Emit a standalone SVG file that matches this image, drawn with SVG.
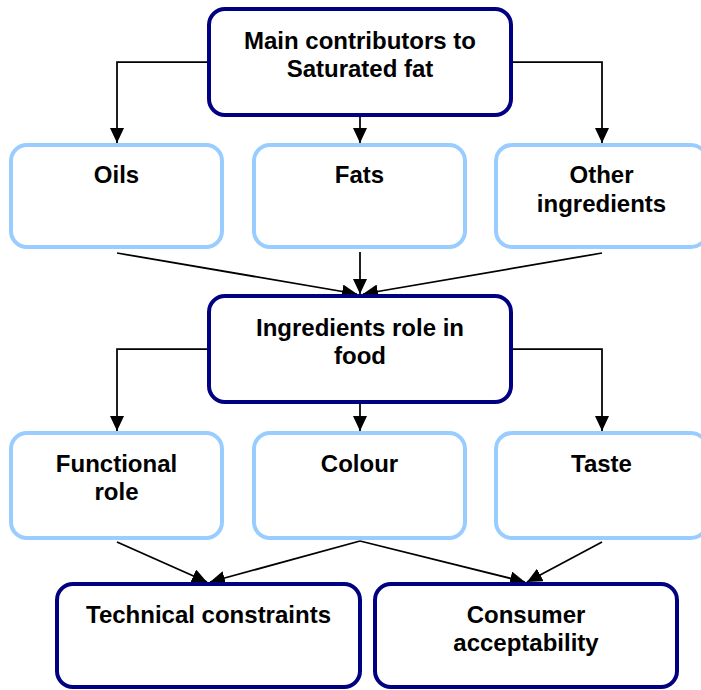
<svg xmlns="http://www.w3.org/2000/svg" width="701" height="690" viewBox="0 0 701 690">
<defs>
<marker id="ah" markerUnits="userSpaceOnUse" markerWidth="15" markerHeight="14" refX="15" refY="7" orient="auto" viewBox="0 0 15 14">
<path d="M0,0 L15,7 L0,14 z" fill="#000"/>
</marker>
</defs>
<style>
.main{fill:#fff;stroke:#000080;stroke-width:4}
.sub{fill:#fff;stroke:#99CCFF;stroke-width:4}
.t{font-family:"Liberation Sans",Arial,sans-serif;font-weight:bold;font-size:24px;fill:#000;text-anchor:middle}
.c{fill:none;stroke:#000;stroke-width:1.75;marker-end:url(#ah)}
</style>
<rect width="701" height="690" fill="#fff"/>
<g id="connectors">
<path class="c" d="M207,62 H117 V143"/>
<path class="c" d="M360,117 V143"/>
<path class="c" d="M513,62 H602 V143"/>
<path class="c" d="M117,253 L357,294"/>
<path class="c" d="M360,252 V294"/>
<path class="c" d="M602,253 L363,294"/>
<path class="c" d="M207,349 H117 V431"/>
<path class="c" d="M360,404 V431"/>
<path class="c" d="M513,349 H602 V431"/>
<path class="c" d="M117,542 L207,582"/>
<path class="c" d="M360,541 L210,582"/>
<path class="c" d="M360,541 L525,582"/>
<path class="c" d="M602,542 L527,582"/>
</g>
<g id="main-contributors">
<rect class="main" x="209" y="9" width="302" height="106" rx="16"/>
<text class="t" x="360" y="49">Main contributors to</text>
<text class="t" x="360" y="77">Saturated fat</text>
</g>
<g id="oils">
<rect class="sub" x="11" y="145" width="211" height="102" rx="16"/>
<text class="t" x="116.5" y="183">Oils</text>
</g>
<g id="fats">
<rect class="sub" x="254" y="145" width="211" height="102" rx="16"/>
<text class="t" x="359.5" y="183">Fats</text>
</g>
<g id="other-ingredients">
<rect class="sub" x="496" y="145" width="211" height="102" rx="16"/>
<text class="t" x="601.5" y="183">Other</text>
<text class="t" x="601.5" y="212">ingredients</text>
</g>
<g id="ingredients-role">
<rect class="main" x="209" y="296" width="302" height="106" rx="16"/>
<text class="t" x="360" y="336">Ingredients role in</text>
<text class="t" x="360" y="364">food</text>
</g>
<g id="functional-role">
<rect class="sub" x="11" y="433" width="211" height="105" rx="16"/>
<text class="t" x="116.5" y="472">Functional</text>
<text class="t" x="116.5" y="500">role</text>
</g>
<g id="colour">
<rect class="sub" x="254" y="433" width="211" height="105" rx="16"/>
<text class="t" x="359.5" y="472">Colour</text>
</g>
<g id="taste">
<rect class="sub" x="496" y="433" width="211" height="105" rx="16"/>
<text class="t" x="601.5" y="472">Taste</text>
</g>
<g id="technical-constraints">
<rect class="main" x="57" y="584" width="303" height="103" rx="16"/>
<text class="t" x="208.5" y="623">Technical constraints</text>
</g>
<g id="consumer-acceptability">
<rect class="main" x="375" y="584" width="302" height="103" rx="16"/>
<text class="t" x="526" y="623">Consumer</text>
<text class="t" x="526" y="651">acceptability</text>
</g>
</svg>
